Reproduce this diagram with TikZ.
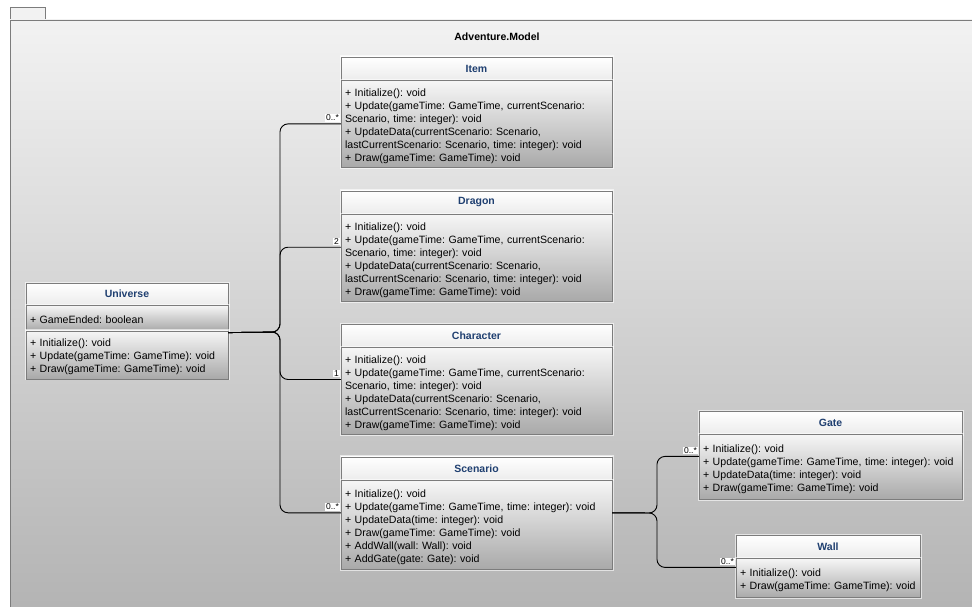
\documentclass[tikz,border=0pt]{standalone}
\usepackage{fontspec}
\setmainfont{Liberation Sans}
\usetikzlibrary{positioning}
\definecolor{titleblue}{HTML}{1F3F70}
\definecolor{boxline}{HTML}{7C7C7C}
\definecolor{headtop}{HTML}{FFFFFF}
\definecolor{headbot}{HTML}{ECECEC}
\definecolor{bodytop}{HTML}{F6F6F6}
\definecolor{bodybot}{HTML}{A9A9A9}
\definecolor{pkgtop}{HTML}{F2F2F2}
\definecolor{pkgbot}{HTML}{B3B3B3}
\frenchspacing

\begin{document}
\begin{tikzpicture}[x=1pt,y=-1pt,
	glow/.style={preaction={draw=white, draw opacity=0.6, line width=3pt}},
	head/.style={glow, draw=boxline, top color=headtop, bottom color=headbot, text width=#1, minimum height=23pt, inner xsep=4pt, inner ysep=0pt, align=center, text=titleblue, font=\fontsize{10.5}{12}\selectfont\bfseries},
	body/.style={glow, draw=boxline, top color=bodytop, bottom color=bodybot, text width=#1, inner xsep=4pt, inner ysep=2pt, align=left, font=\fontsize{10.6}{13}\selectfont, execute at begin node={\rule{0pt}{12pt}}},
	mult/.style={fill=white, inner sep=0.7pt, font=\fontsize{8.5}{8.5}\selectfont},
	assoc/.style={draw=black, line width=0.9pt, rounded corners=8pt}]
	\useasboundingbox (0,0) rectangle (972,607);
	\fill[white] (0,0) rectangle (972,607);
	
	% package frame
	\node[draw=boxline, fill=pkgtop, minimum width=35pt, minimum height=13pt, inner sep=0pt, anchor=north west](TAB) at (10,7){};
	\shade[top color=pkgtop, bottom color=pkgbot, draw=boxline] (10,20) rectangle (980,615);
	\node[font=\fontsize{10.5}{12}\selectfont\bfseries](PKG) at (497,37){Adventure.Model};
	
	% classes
	\node[head=194pt, minimum height=22pt](UNIh) at (127,294){Universe};
	\node[body=194pt, below=0pt of UNIh, minimum height=25pt](UNIa){+ GameEnded: boolean};
	\node[body=194pt, below=0pt of UNIa, minimum height=48pt](UNIm){+ Initialize(): void\\+ Update(gameTime: GameTime): void\\+ Draw(gameTime: GameTime): void};
	
	\node[head=263pt](ITEMh) at (476.5,68.5){Item};
	\node[body=263pt, below=0pt of ITEMh, minimum height=87pt](ITEMb){+ Initialize(): void\\+ Update(gameTime: GameTime, currentScenario:\\Scenario, time: integer): void\\+ UpdateData(currentScenario: Scenario,\\lastCurrentScenario: Scenario, time: integer): void\\+ Draw(gameTime: GameTime): void};
	
	\node[head=263pt, below=23pt of ITEMb](DRAGh){Dragon};
	\node[body=263pt, below=0pt of DRAGh, minimum height=87pt](DRAGb){+ Initialize(): void\\+ Update(gameTime: GameTime, currentScenario:\\Scenario, time: integer): void\\+ UpdateData(currentScenario: Scenario,\\lastCurrentScenario: Scenario, time: integer): void\\+ Draw(gameTime: GameTime): void};
	
	\node[head=263pt, below=22.5pt of DRAGb](CHARh){Character};
	\node[body=263pt, below=0pt of CHARh, minimum height=87pt](CHARb){+ Initialize(): void\\+ Update(gameTime: GameTime, currentScenario:\\Scenario, time: integer): void\\+ UpdateData(currentScenario: Scenario,\\lastCurrentScenario: Scenario, time: integer): void\\+ Draw(gameTime: GameTime): void};
	
	\node[head=263pt, below=22pt of CHARb](SCENh){Scenario};
	\node[body=263pt, below=0pt of SCENh, minimum height=89pt](SCENb){+ Initialize(): void\\+ Update(gameTime: GameTime, time: integer): void\\+ UpdateData(time: integer): void\\+ Draw(gameTime: GameTime): void\\+ AddWall(wall: Wall): void\\+ AddGate(gate: Gate): void};
	
	\node[head=255pt](GATEh) at (830.5,422.5){Gate};
	\node[body=255pt, below=0pt of GATEh, minimum height=65pt](GATEb){+ Initialize(): void\\+ Update(gameTime: GameTime, time: integer): void\\+ UpdateData(time: integer): void\\+ Draw(gameTime: GameTime): void};
	
	\node[head=176pt](WALLh) at (828,546.5){Wall};
	\node[body=176pt, below=0pt of WALLh, minimum height=39pt](WALLb){+ Initialize(): void\\+ Draw(gameTime: GameTime): void};
	
	% associations
	\coordinate(J1) at (280,332);
	\coordinate(J2) at (657,513);
	\draw[assoc] ([yshift=-2pt]UNIm.north east) -- (J1) |- (ITEMb.west);
	\draw[assoc] ([yshift=-2pt]UNIm.north east) -- (J1) |- ([yshift=10.5pt]DRAGb.west);
	\draw[assoc] ([yshift=-2pt]UNIm.north east) -- (J1) |- ([yshift=11.5pt]CHARb.west);
	\draw[assoc] ([yshift=-2pt]UNIm.north east) -- (J1) |- ([yshift=12pt]SCENb.west);
	\draw[assoc] ([yshift=12pt]SCENb.east) -- (J2) |- ([yshift=10.5pt]GATEb.west);
	\draw[assoc] ([yshift=12pt]SCENb.east) -- (J2) |- ([yshift=10.5pt]WALLb.west);
	
	\node[mult, anchor=south east](M1) at ([xshift=-1pt,yshift=2pt]ITEMb.west){0..*};
	\node[mult, anchor=south east](M2) at ([xshift=-1pt,yshift=12.5pt]DRAGb.west){2};
	\node[mult, anchor=south east](M3) at ([xshift=-1pt,yshift=13.5pt]CHARb.west){1};
	\node[mult, anchor=south east](M4) at ([xshift=-1pt,yshift=14pt]SCENb.west){0..*};
	\node[mult, anchor=south east](M5) at ([xshift=-1pt,yshift=12.5pt]GATEb.west){0..*};
	\node[mult, anchor=south east](M6) at ([xshift=-1pt,yshift=12.5pt]WALLb.west){0..*};
\end{tikzpicture}
\end{document}
